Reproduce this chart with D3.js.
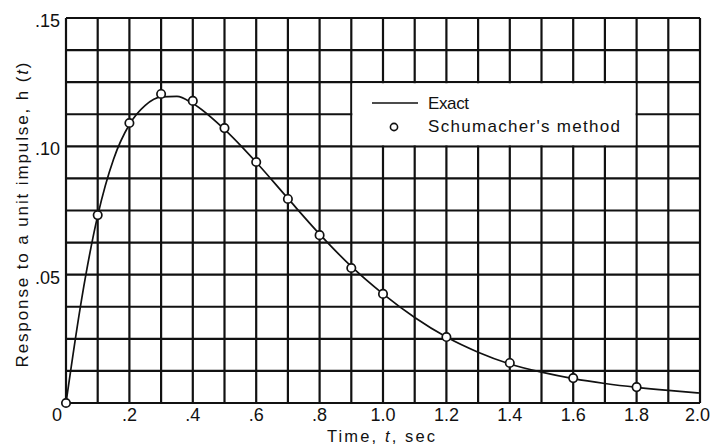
<!DOCTYPE html>
<html>
<head>
<meta charset="utf-8">
<script src="https://cdn.jsdelivr.net/npm/d3@7/dist/d3.min.js"></script>
<style>
  html, body { margin: 0; padding: 0; background: #fff; }
  svg { display: block; }
  text { font-family: "Liberation Sans", Arial, sans-serif; fill: #111; }
</style>
</head>
<body>
<svg id="chart" width="711" height="444"></svg>
<script>
// ---- data ----
const exactT = [0, 0.05, 0.1, 0.15, 0.2, 0.25, 0.3, 0.35, 0.4, 0.5, 0.6, 0.7, 0.8, 0.9, 1.0, 1.1, 1.2, 1.3, 1.4, 1.5, 1.6, 1.7, 1.8, 1.9, 2.0];
const exactH = [0, 0.041, 0.073, 0.095, 0.1085, 0.116, 0.1193, 0.1195, 0.1167, 0.1066, 0.0938, 0.0797, 0.0658, 0.0532, 0.0425, 0.0333, 0.0257, 0.0198, 0.0152, 0.0120, 0.0095, 0.0076, 0.0061, 0.0049, 0.0039];
const schT = [0, 0.1, 0.2, 0.3, 0.4, 0.5, 0.6, 0.7, 0.8, 0.9, 1.0, 1.2, 1.4, 1.6, 1.8];
const schH = [0, 0.0732, 0.1091, 0.1204, 0.1177, 0.1071, 0.0939, 0.0795, 0.0654, 0.0526, 0.0425, 0.0257, 0.0156, 0.0097, 0.0062];
const xTickVals = [0.2, 0.4, 0.6, 0.8, 1.0, 1.2, 1.4, 1.6, 1.8, 2.0];
const xTickLabels = [".2", ".4", ".6", ".8", "1.0", "1.2", "1.4", "1.6", "1.8", "2.0"];
const yTickVals = [0.05, 0.10, 0.15];
const yTickLabels = [".05", ".10", ".15"];
const legendLabels = ["Exact", "Schumacher's method"];

// ---- layout ----
const svg = d3.select("#chart");
const L = 66, R = 700, T = 18, B = 403;
const x = d3.scaleLinear().domain([0, 2.0]).range([L, R]);
const y = d3.scaleLinear().domain([0, 0.15]).range([B, T]);

// grid
const gx = d3.range(0, 21).map(i => i * 0.1);
const gy = d3.range(0, 13).map(i => i * 0.0125);
const grid = svg.append("g").attr("stroke", "#111").attr("stroke-width", 2.2);
grid.selectAll("line.v").data(gx).join("line")
  .attr("x1", d => x(d)).attr("x2", d => x(d))
  .attr("y1", y(0)).attr("y2", y(0.15));
grid.selectAll("line.h").data(gy).join("line")
  .attr("x1", x(0)).attr("x2", x(2.0))
  .attr("y1", d => y(d)).attr("y2", d => y(d));

// legend box (clears grid inside)
const lx0 = x(0.9), lx1 = x(1.8), ly0 = y(0.125), ly1 = y(0.10);
svg.append("rect").attr("x", lx0 + 1.1).attr("y", ly0 + 1.1)
  .attr("width", lx1 - lx0 - 2.2).attr("height", ly1 - ly0 - 2.2)
  .attr("fill", "#fff");

// exact curve
const line = d3.line().x(d => x(d[0])).y(d => y(d[1])).curve(d3.curveMonotoneX);
svg.append("path").datum(exactT.map((t, i) => [t, exactH[i]]))
  .attr("d", line).attr("fill", "none").attr("stroke", "#111").attr("stroke-width", 1.7);

// Schumacher points
svg.append("g").selectAll("circle").data(schT.map((t, i) => [t, schH[i]])).join("circle")
  .attr("cx", d => x(d[0])).attr("cy", d => y(d[1])).attr("r", 4.2)
  .attr("fill", "#fff").attr("stroke", "#111").attr("stroke-width", 1.7);

// x tick labels
svg.append("g").selectAll("text").data(xTickVals).join("text")
  .attr("x", d => d === 2.0 ? 710 : x(d)).attr("y", 421)
  .attr("text-anchor", d => d === 2.0 ? "end" : "middle").attr("font-size", 18)
  .text((d, i) => xTickLabels[i]);
svg.append("text").attr("x", x(0) - 9).attr("y", 421)
  .attr("text-anchor", "middle").attr("font-size", 18).text("0");

// y tick labels
svg.append("g").selectAll("text").data(yTickVals).join("text")
  .attr("x", x(0) - 6).attr("y", d => y(d) + 9)
  .attr("text-anchor", "end").attr("font-size", 18)
  .text((d, i) => yTickLabels[i]);

// axis titles
const xt = svg.append("text").attr("x", 381).attr("y", 441.5)
  .attr("text-anchor", "middle").attr("font-size", 16.5)
  .attr("textLength", 108).attr("lengthAdjust", "spacing");
xt.append("tspan").text("Time,  ");
xt.append("tspan").attr("font-style", "italic").text("t");
xt.append("tspan").text(", sec");

const yt = svg.append("text")
  .attr("transform", "translate(28,215) rotate(-90)")
  .attr("text-anchor", "middle").attr("font-size", 17)
  .attr("textLength", 305).attr("lengthAdjust", "spacing");
yt.append("tspan").text("Response to a unit impulse,  h (");
yt.append("tspan").attr("font-style", "italic").text("t");
yt.append("tspan").text(")");

// legend contents
const legY1 = 103, legY2 = 127;
svg.append("line").attr("x1", 372).attr("x2", 418).attr("y1", legY1).attr("y2", legY1)
  .attr("stroke", "#111").attr("stroke-width", 1.6);
svg.append("circle").attr("cx", 394).attr("cy", legY2).attr("r", 3.6)
  .attr("fill", "#fff").attr("stroke", "#111").attr("stroke-width", 1.6);
svg.append("g").selectAll("text").data(legendLabels).join("text")
  .attr("x", 428).attr("y", (d, i) => i === 0 ? legY1 + 6 : legY2 + 5)
  .attr("font-size", 17)
  .attr("textLength", (d, i) => i === 0 ? 41 : 192).attr("lengthAdjust", "spacing")
  .text(d => d);
</script>
</body>
</html>
